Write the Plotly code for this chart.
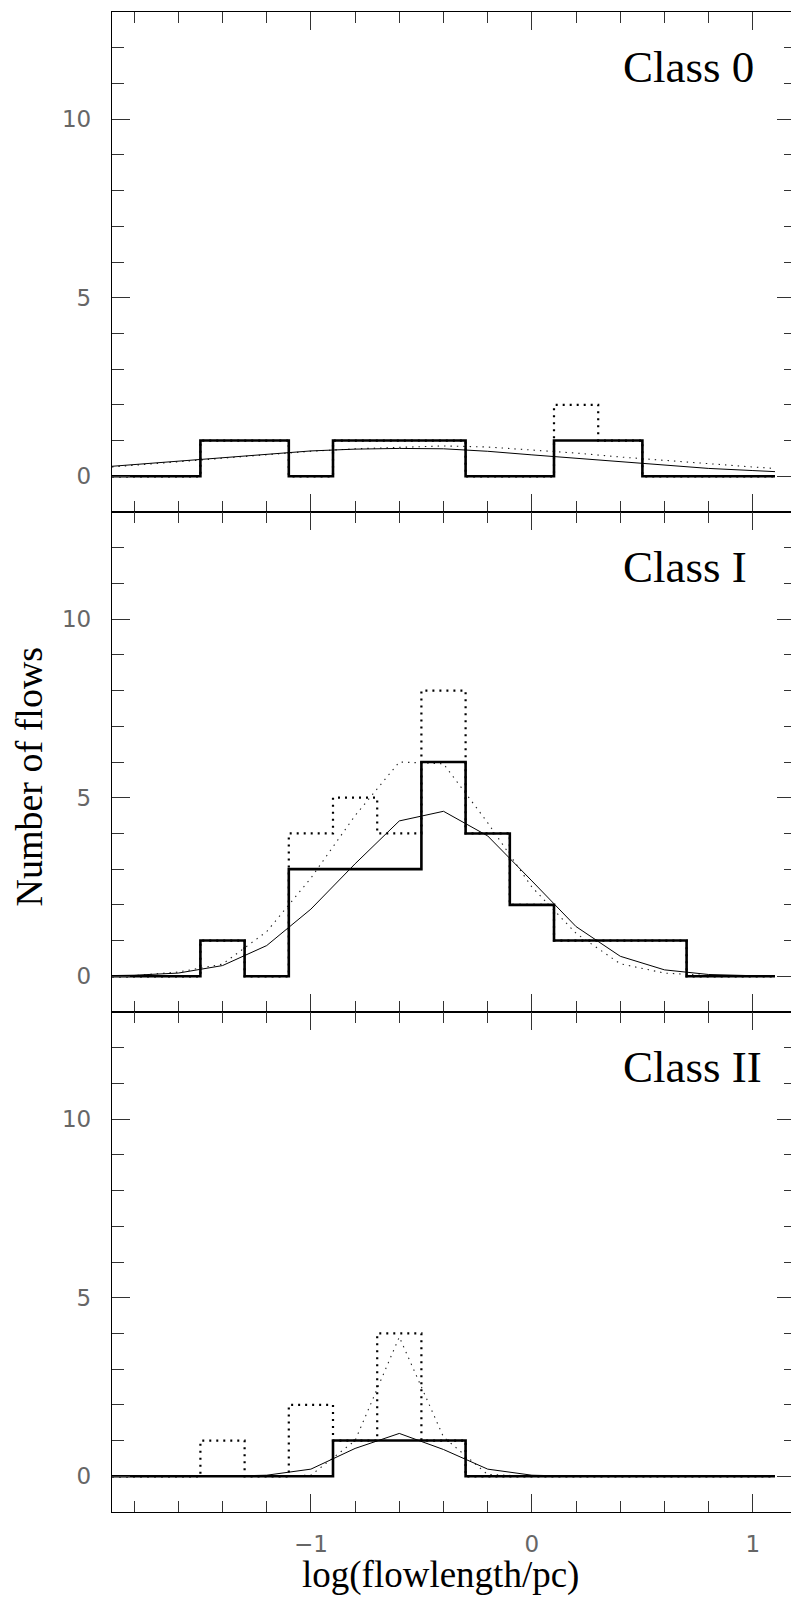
import plotly.graph_objects as go
from plotly.subplots import make_subplots

# ---------------- data ----------------
bin_edges = [-1.9, -1.7, -1.5, -1.3, -1.1, -0.9, -0.7, -0.5, -0.3, -0.1,
             0.1, 0.3, 0.5, 0.7, 0.9, 1.1]

class0_solid = [0, 0, 1, 1, 0, 1, 1, 1, 0, 0, 1, 1, 0, 0, 0]
class0_dotted = [0, 0, 1, 1, 0, 1, 1, 1, 0, 0, 2, 1, 0, 0, 0]
classI_solid = [0, 0, 1, 0, 3, 3, 3, 6, 4, 2, 1, 1, 1, 0, 0]
classI_dotted = [0, 0, 1, 0, 4, 5, 4, 8, 4, 2, 1, 1, 1, 0, 0]
classII_solid = [0, 0, 0, 0, 0, 1, 1, 1, 0, 0, 0, 0, 0, 0, 0]
classII_dotted = [0, 0, 1, 0, 2, 1, 4, 1, 0, 0, 0, 0, 0, 0, 0]

curve_x = [-1.9, -1.8, -1.6, -1.4, -1.2, -1.0, -0.8, -0.6, -0.4, -0.2,
           0.0, 0.2, 0.4, 0.6, 0.8, 1.0, 1.1]
class0_fit_solid = [0.28, 0.33, 0.42, 0.52, 0.63, 0.71, 0.76, 0.78, 0.77, 0.70,
                    0.60, 0.50, 0.40, 0.31, 0.22, 0.16, 0.13]
class0_fit_dotted = [0.26, 0.31, 0.40, 0.50, 0.61, 0.70, 0.77, 0.82, 0.85, 0.82,
                     0.74, 0.65, 0.54, 0.44, 0.34, 0.26, 0.22]
classI_fit_solid = [0.02, 0.03, 0.09, 0.30, 0.86, 1.88, 3.15, 4.35, 4.62, 3.93,
                    2.67, 1.39, 0.56, 0.18, 0.05, 0.01, 0.0]
classI_fit_dotted = [0.01, 0.02, 0.12, 0.34, 1.25, 2.75, 4.5, 6.0, 5.95, 4.3,
                     2.5, 1.2, 0.35, 0.09, 0.02, 0.0, 0.0]
classII_fit_solid = [0, 0, 0, 0, 0.03, 0.2, 0.78, 1.2, 0.75, 0.2,
                     0.03, 0, 0, 0, 0, 0, 0]
classII_fit_dotted = [0, 0, 0, 0, 0, 0.03, 1.0, 3.9, 1.1, 0.05,
                      0, 0, 0, 0, 0, 0, 0]

panel_labels = ["Class 0", "Class I", "Class II"]
x_tick_vals = [-1, 0, 1]
y_tick_vals = [0, 5, 10]

panels = [
    (class0_solid, class0_dotted, class0_fit_solid, class0_fit_dotted),
    (classI_solid, classI_dotted, classI_fit_solid, classI_fit_dotted),
    (classII_solid, classII_dotted, classII_fit_solid, classII_fit_dotted),
]

# ---------------- figure ----------------
W, H = 791, 1599
ML, MR, MT, MB = 112, 0, 12, 87
PX_PER_UNIT = 221.0
x_lo = -1.9
x_hi = x_lo + (W - ML - MR) / PX_PER_UNIT
y_range = [-1, 13]

fig = make_subplots(rows=3, cols=1, shared_xaxes=True, vertical_spacing=0)

for i, (hs, hd, fs, fd) in enumerate(panels):
    r = i + 1
    fig.add_trace(go.Scatter(x=curve_x, y=fd, mode="lines",
                             line=dict(color="#222", width=1.1, dash="1.4px,5px"),
                             showlegend=False, hoverinfo="skip"), row=r, col=1)
    fig.add_trace(go.Scatter(x=curve_x, y=fs, mode="lines",
                             line=dict(color="black", width=1),
                             showlegend=False, hoverinfo="skip"), row=r, col=1)
    fig.add_trace(go.Scatter(x=bin_edges, y=hd + [hd[-1]], mode="lines",
                             line=dict(color="black", width=2.2, shape="hv",
                                       dash="2px,5px"),
                             showlegend=False, hoverinfo="skip"), row=r, col=1)
    fig.add_trace(go.Scatter(x=bin_edges, y=hs + [hs[-1]], mode="lines",
                             line=dict(color="black", width=2.6, shape="hv"),
                             showlegend=False, hoverinfo="skip"), row=r, col=1)

tick_font = dict(family="DejaVu Sans", size=23, color="#666")

for r in range(1, 4):
    fig.update_xaxes(row=r, col=1, range=[x_lo, x_hi], tickmode="array",
                     tickvals=x_tick_vals, ticks="inside", ticklen=18,
                     tickwidth=1, tickcolor="#333",
                     minor=dict(dtick=0.2, tick0=0, ticks="inside", ticklen=11,
                                tickwidth=1, tickcolor="#333", showgrid=False),
                     showline=True, linecolor="black", linewidth=1.3,
                     mirror="ticks", showgrid=False, zeroline=False,
                     showticklabels=(r == 3), tickfont=tick_font,
                     ticklabelstandoff=11)
    fig.update_yaxes(row=r, col=1, range=y_range, tickmode="array",
                     tickvals=y_tick_vals, ticks="inside", ticklen=18,
                     tickwidth=1, tickcolor="#333",
                     minor=dict(dtick=1, tick0=0, ticks="inside", ticklen=12,
                                tickwidth=1, tickcolor="#333", showgrid=False),
                     showline=True, linecolor="black", linewidth=1.3,
                     mirror=False, showgrid=False, zeroline=False,
                     tickfont=tick_font, ticklabelstandoff=15)

# right-hand tick-only axes (no axis line, as in the cropped original)
for i in range(3):
    base_y = "y" if i == 0 else f"y{i + 1}"
    base_x = "x" if i == 0 else f"x{i + 1}"
    new_id = i + 4
    fig.add_trace(go.Scatter(x=[None], y=[None], xaxis=base_x, yaxis=f"y{new_id}",
                             showlegend=False, hoverinfo="skip"))
    fig.layout[f"yaxis{new_id}"] = dict(
        overlaying=base_y, anchor=base_x, side="right", range=y_range,
        tickmode="array", tickvals=y_tick_vals, ticks="inside", ticklen=14,
        tickwidth=1, tickcolor="#333",
        minor=dict(dtick=1, tick0=0, ticks="inside", ticklen=7, tickwidth=1,
                   tickcolor="#333", showgrid=False),
        showline=False, showgrid=False, zeroline=False, showticklabels=False)

# panel labels
for i, lab in enumerate(panel_labels):
    yref = "y" if i == 0 else f"y{i + 1}"
    xref = "x" if i == 0 else f"x{i + 1}"
    fig.add_annotation(x=0.405, y=11.45, xref=xref, yref=yref, text=lab,
                       showarrow=False, xanchor="left", yanchor="middle",
                       font=dict(family="Liberation Serif", size=45, color="black"))

plot_w = W - ML - MR
plot_h = H - MT - MB
# axis titles
fig.add_annotation(x=(440 - ML) / plot_w, y=(H - MB - 1575) / plot_h,
                   xref="paper", yref="paper", text="log(flowlength/pc)",
                   showarrow=False, xanchor="center", yanchor="middle",
                   font=dict(family="Liberation Serif", size=37, color="black"))
fig.add_annotation(x=(28.5 - ML) / plot_w, y=(H - MB - 777) / plot_h,
                   xref="paper", yref="paper", text="Number of flows",
                   textangle=-90, showarrow=False, xanchor="center",
                   yanchor="middle",
                   font=dict(family="Liberation Serif", size=38, color="black"))

fig.update_layout(width=W, height=H, margin=dict(l=ML, r=MR, t=MT, b=MB),
                  plot_bgcolor="white", paper_bgcolor="white",
                  showlegend=False)

fig.write_html("out.html")
